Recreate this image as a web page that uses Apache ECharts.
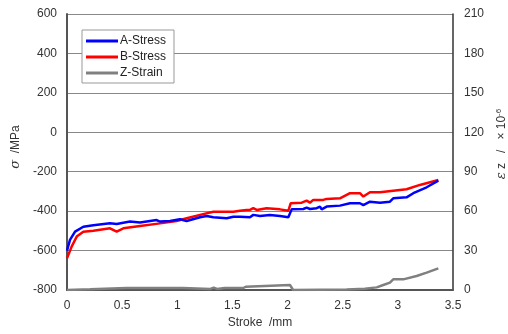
<!DOCTYPE html>
<html lang="en">
<head>
    <meta charset="UTF-8">
    <title>Stress / Strain</title>
    <script src="https://cdn.jsdelivr.net/npm/echarts@6/dist/echarts.min.js"></script>
</head>
<style>
    html, body { margin: 0; padding: 0; background: #fff; }
    #main { width: 508px; height: 334px; }
</style>
<body>
<div id="main"></div>
<script>
    var strokeA = [0, 0.027, 0.073, 0.148, 0.239, 0.39, 0.45, 0.571, 0.662, 0.813, 0.843, 0.934, 1.024, 1.085, 1.206, 1.266, 1.327, 1.448, 1.508, 1.568, 1.659, 1.689, 1.75, 1.84, 1.931, 2.007, 2.037, 2.143, 2.173, 2.203, 2.264, 2.294, 2.309, 2.354, 2.475, 2.566, 2.656, 2.687, 2.747, 2.838, 2.928, 2.958, 3.079, 3.14, 3.261, 3.367];
    var stressA = [-600, -546, -504, -479, -472, -462, -465, -453, -458, -445, -453, -450, -441, -450, -431, -425, -431, -436, -428, -428, -431, -419, -425, -419, -425, -431, -391, -389, -382, -389, -385, -377, -391, -377, -372, -360, -360, -369, -352, -357, -352, -335, -330, -309, -279, -245];

    var strokeB = [0, 0.042, 0.088, 0.148, 0.239, 0.39, 0.45, 0.511, 0.662, 0.843, 0.994, 1.085, 1.206, 1.327, 1.508, 1.568, 1.629, 1.659, 1.689, 1.72, 1.81, 1.931, 2.007, 2.028, 2.128, 2.173, 2.203, 2.233, 2.324, 2.354, 2.475, 2.566, 2.656, 2.687, 2.747, 2.838, 2.958, 3.079, 3.2, 3.367];
    var stressB = [-639, -580, -529, -504, -499, -487, -504, -487, -475, -462, -450, -436, -419, -403, -403, -398, -394, -394, -385, -394, -385, -391, -398, -360, -357, -347, -357, -343, -343, -338, -335, -309, -309, -326, -304, -304, -296, -289, -267, -242];

    var strokeZ = [0, 0.21, 0.54, 1.05, 1.3, 1.33, 1.36, 1.43, 1.6, 1.62, 2.022, 2.05, 2.535, 2.70, 2.808, 2.868, 2.928, 2.958, 2.974, 3.049, 3.17, 3.261, 3.367];
    var strainZ = [0, 0.5, 1.5, 1.5, 0.8, 1.8, 0.8, 1.5, 1.5, 2.5, 3.8, 0, 0.3, 1, 2, 3.8, 5.6, 8.1, 7.1, 8.1, 10.7, 13.2, 16.5];

    var seriesNames = ['A-Stress', 'B-Stress', 'Z-Strain'];
    var xTicks = [0, 3.5, 0.5];
    var leftTicks = [-800, 600, 200];
    var rightTicks = [0, 210, 30];

    function pairs(xs, ys) {
        var out = [];
        for (var i = 0; i < xs.length; i++) {
            out.push([xs[i], ys[i]]);
        }
        return out;
    }

    var labelFont = { color: '#333', fontSize: 12, fontFamily: 'Liberation Sans, Arial, sans-serif' };

    var legendData = [];
    for (var k = 0; k < seriesNames.length; k++) {
        legendData.push({ name: seriesNames[k], icon: 'rect' });
    }

    var myChart = echarts.init(document.getElementById('main'));
    var option = {
        animation: false,
        backgroundColor: '#fff',
        grid: { left: 67, right: 55, top: 14, bottom: 44, outerBoundsMode: 'none', containLabel: false },
        legend: {
            data: legendData,
            orient: 'vertical',
            left: 82,
            top: 30,
            itemWidth: 32,
            itemHeight: 3,
            itemGap: 4,
            padding: [5, 8, 4, 4],
            borderColor: '#999',
            borderWidth: 1,
            backgroundColor: '#fff',
            textStyle: { color: '#222', fontSize: 12, fontFamily: 'Liberation Sans, Arial, sans-serif', padding: [0, 0, 0, -3] }
        },
        xAxis: {
            type: 'value',
            min: xTicks[0], max: xTicks[1], interval: xTicks[2],
            name: 'Stroke  /mm',
            nameLocation: 'middle',
            nameGap: 27,
            nameTextStyle: labelFont,
            axisLine: { show: true, onZero: false, lineStyle: { color: '#555', width: 2 } },
            axisTick: { show: false },
            splitLine: { show: false },
            axisLabel: Object.assign({ margin: 10 }, labelFont)
        },
        yAxis: [
            {
                type: 'value',
                min: leftTicks[0], max: leftTicks[1], interval: leftTicks[2],
                name: '{s|σ}  /MPa',
                nameLocation: 'middle',
                nameGap: 41,
                nameRotate: 90,
                nameTextStyle: Object.assign({ padding: [0, 0, 0, 10], rich: { s: { fontStyle: 'italic', fontSize: 13, color: '#333', fontFamily: 'DejaVu Serif, serif' } } }, labelFont),
                axisLine: { show: true, onZero: false, lineStyle: { color: '#555', width: 2 } },
                axisTick: { show: false },
                splitLine: { show: true, lineStyle: { color: '#888', width: 1 } },
                axisLabel: Object.assign({ margin: 10 }, labelFont)
            },
            {
                type: 'value',
                position: 'right',
                min: rightTicks[0], max: rightTicks[1], interval: rightTicks[2],
                name: '{e|ε} z   /   × 10{sup|-6}',
                nameLocation: 'middle',
                nameGap: 38,
                nameRotate: 90,
                nameTextStyle: Object.assign({
                    padding: [0, 0, 0, 16],
                    rich: {
                        e: { fontStyle: 'italic', fontSize: 13, color: '#333', fontFamily: 'DejaVu Serif, serif' },
                        sup: { fontSize: 8, color: '#333', verticalAlign: 'top', padding: [0, 0, 6, 0] }
                    }
                }, labelFont),
                axisLine: { show: true, onZero: false, lineStyle: { color: '#333', width: 1.5 } },
                axisTick: { show: false },
                splitLine: { show: false },
                axisLabel: Object.assign({ margin: 11 }, labelFont)
            }
        ],
        series: [
            {
                name: seriesNames[0],
                type: 'line',
                yAxisIndex: 0,
                symbol: 'none',
                color: '#0000ff',
                lineStyle: { width: 2.5 },
                data: pairs(strokeA, stressA)
            },
            {
                name: seriesNames[1],
                type: 'line',
                yAxisIndex: 0,
                symbol: 'none',
                color: '#ff0000',
                lineStyle: { width: 2.5 },
                data: pairs(strokeB, stressB),
                z: 1
            },
            {
                name: seriesNames[2],
                type: 'line',
                yAxisIndex: 1,
                symbol: 'none',
                color: '#808080',
                lineStyle: { width: 2.5 },
                data: pairs(strokeZ, strainZ)
            }
        ]
    };
    myChart.setOption(option);
</script>
</body>
</html>
